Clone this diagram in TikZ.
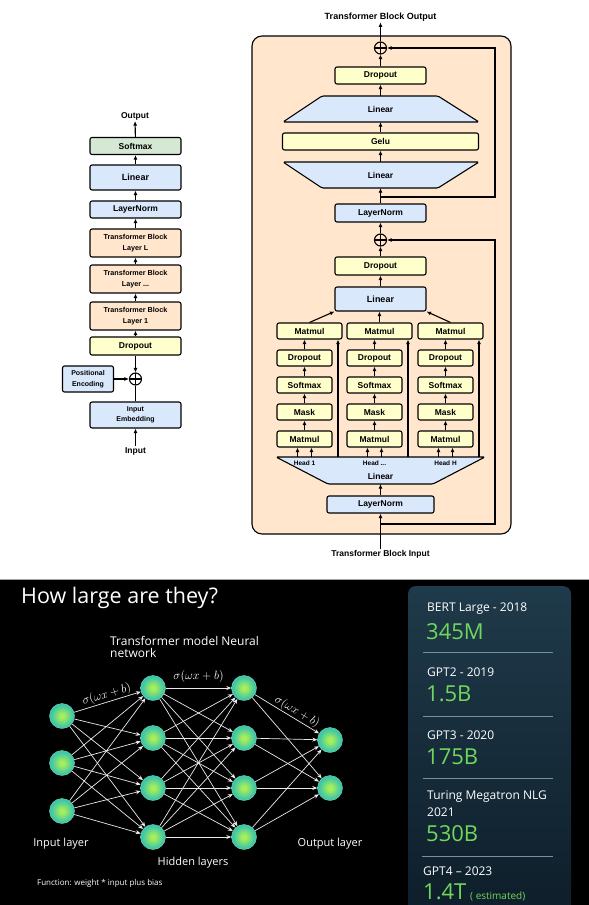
\documentclass[tikz,border=0pt]{standalone}
\usepackage{fontspec}
\setmainfont{Liberation Sans}
\newfontfamily\slidefont{Open Sans}
\usetikzlibrary{arrows.meta}

\definecolor{bluefill}{HTML}{DAE8FC}
\definecolor{yellowfill}{HTML}{FFFFCC}
\definecolor{peachfill}{HTML}{FFE6CC}
\definecolor{greenfill}{HTML}{D5E8D4}
\definecolor{nnin}{HTML}{A8EE5A}
\definecolor{nnout}{HTML}{3CC6A8}
\definecolor{valgreen}{HTML}{6FD85C}
\definecolor{paneltop}{HTML}{1F3A4A}
\definecolor{panelbot}{HTML}{0E1E2A}
\definecolor{rulegray}{HTML}{7D8D99}

\pgfdeclareradialshading{neuronball}{\pgfpoint{0bp}{0bp}}{color(0bp)=(nnin); color(4bp)=(nnin); color(22bp)=(nnout); color(50bp)=(nnout)}

\newcommand\headmid{...}

\tikzstyle{box} = [draw, line width=1.1pt, rounded corners=2pt, inner sep=0pt, align=center, font=\bfseries\fontsize{8.5}{10}\selectfont]
\tikzstyle{yel} = [box, fill=yellowfill]
\tikzstyle{blu} = [box, fill=bluefill]
\tikzstyle{grn} = [box, fill=greenfill]
\tikzstyle{org} = [box, fill=peachfill, font=\bfseries\fontsize{7.2}{10.5}\selectfont]
\tikzstyle{trap} = [draw, line width=1.1pt, fill=bluefill, rounded corners=1.5pt]
\tikzstyle{txt} = [inner sep=1pt, font=\bfseries\fontsize{8.5}{10}\selectfont]
\tikzstyle{edge} = [draw, line width=1.1pt, -{Latex[length=4.5pt,width=4pt]}]
\tikzstyle{wire} = [draw, line width=1.1pt]
\tikzstyle{plus} = [circle, draw, line width=1.1pt, minimum size=12pt, inner sep=0pt, path picture={\draw[line width=1.1pt] (path picture bounding box.north) -- (path picture bounding box.south) (path picture bounding box.west) -- (path picture bounding box.east);}]
\tikzstyle{neuron} = [circle, minimum size=25pt, inner sep=0pt, shading=neuronball, draw=nnout!70!white, thin]
\tikzstyle{nnedge} = [draw=white!92!black, line width=0.7pt, -{Stealth[length=5pt,width=4pt]}]
\tikzstyle{sigma} = [text=white, font=\fontsize{12}{14}\selectfont, inner sep=1pt]
\tikzstyle{slide} = [text=white, inner sep=0pt, font=\slidefont\fontsize{11}{13}\selectfont]
\tikzstyle{year} = [text=white, anchor=west, inner sep=0pt, font=\slidefont\fontsize{12}{14}\selectfont]
\tikzstyle{value} = [text=valgreen, anchor=west, inner sep=0pt, font=\slidefont\fontsize{22}{26}\selectfont]
\tikzstyle{divider} = [draw=rulegray, line width=1pt]

\begin{document}
\begin{tikzpicture}[x=1pt, y=-1pt]
\useasboundingbox (0,0) rectangle (589,905);

% whole model
\node[txt] (outL) at (135,116) {Output};
\node[grn, minimum width=91pt, minimum height=17pt] (softL) at (135.5,146) {Softmax};
\node[blu, minimum width=91pt, minimum height=25pt, font=\bfseries\fontsize{9}{10}\selectfont] (linL) at (135.5,177.5) {Linear};
\node[blu, minimum width=91pt, minimum height=17pt] (lnL) at (135.5,209.5) {LayerNorm};
\node[org, minimum width=91pt, minimum height=28pt] (tbL) at (135.5,243) {Transformer Block\\Layer L};
\node[org, minimum width=91pt, minimum height=28pt] (tbD) at (135.5,279) {Transformer Block\\Layer \headmid};
\node[org, minimum width=91pt, minimum height=28pt] (tb1) at (135.5,316) {Transformer Block\\Layer 1};
\node[yel, minimum width=91pt, minimum height=18pt] (dropL) at (135.5,346) {Dropout};
\node[plus] (plusL) at (135.5,379) {};
\node[blu, minimum width=51pt, minimum height=26pt, font=\bfseries\fontsize{7}{10.5}\selectfont] (posL) at (88,379) {Positional\\Encoding};
\node[blu, minimum width=91pt, minimum height=26pt, font=\bfseries\fontsize{7}{10.5}\selectfont] (embL) at (135.5,415) {Input\\Embedding};
\node[txt] (inL) at (135.5,451) {Input};

\foreach \source/\dest in {inL/embL, posL/plusL, dropL/plusL, dropL/tb1, tb1/tbD, tbD/tbL, tbL/lnL, lnL/linL, linL/softL, softL/outL}
	\path[edge] (\source) -- (\dest);
\path[wire] (embL) -- (plusL);

% transformer block
\node[txt, font=\bfseries\fontsize{9}{10}\selectfont] (outR) at (380.5,17) {Transformer Block Output};
\draw[line width=1.1pt, fill=peachfill, rounded corners=10pt] (252,36) rectangle (511,534);

\node[plus] (plusA) at (380.5,48) {};
\node[yel, minimum width=91pt, minimum height=17pt] (dropA) at (380.5,75.5) {Dropout};
\draw[trap] (322,96) -- (438,96) -- (479,122) -- (283,122) -- cycle;
\node[txt, minimum height=26pt] (linA) at (380.5,109) {Linear};
\node[yel, minimum width=196pt, minimum height=17pt] (gelu) at (380.5,141.5) {Gelu};
\draw[trap] (283,162) -- (479,162) -- (438,188) -- (322,188) -- cycle;
\node[txt, minimum height=26pt] (linB) at (380.5,175) {Linear};
\node[blu, minimum width=91pt, minimum height=18pt] (lnA) at (380.5,213) {LayerNorm};
\node[plus] (plusB) at (380.5,240) {};
\node[yel, minimum width=91pt, minimum height=18pt] (dropB) at (380.5,266) {Dropout};
\node[blu, minimum width=91pt, minimum height=24pt, font=\bfseries\fontsize{9}{10}\selectfont] (linC) at (380.5,299) {Linear};

\foreach \source/\dest in {plusA/outR, dropA/plusA, linA/dropA, gelu/linA, linB/gelu, lnA/linB, plusB/lnA, dropB/plusB, linC/dropB}
	\path[edge] (\source) -- (\dest);

\coordinate (jA) at (380.5,197);
\coordinate (cA) at (495,48);
\path[edge] (jA) -| (cA) -- (plusA);

% heads
\draw[trap] (276,457) -- (485,457) -- (433,484) -- (328,484) -- cycle;
\foreach \n/\L/\h in {1/277/1, 2/347/\headmid, 3/418/H} {
	\node[yel, minimum width=65pt, minimum height=16pt] (mt\n) at ({\L+32.5},331) {Matmul};
	\node[yel, minimum width=55pt, minimum height=16pt] (dr\n) at ({\L+27.5},358) {Dropout};
	\node[yel, minimum width=55pt, minimum height=16pt] (sm\n) at ({\L+27.5},385) {Softmax};
	\node[yel, minimum width=55pt, minimum height=16pt] (mk\n) at ({\L+27.5},412) {Mask};
	\node[yel, minimum width=55pt, minimum height=16pt] (mb\n) at ({\L+27.5},439) {Matmul};
	\node[txt, font=\bfseries\fontsize{6.5}{7}\selectfont] (hd\n) at ({\L+27.5},463.5) {Head \h};
	\coordinate (ha\n) at ({\L+20.5},457);
	\coordinate (hb\n) at ({\L+34.5},457);
	\coordinate (hc\n) at ({\L+61},457);
	\foreach \source/\dest in {mb\n/mk\n, mk\n/sm\n, sm\n/dr\n}
		\path[edge] (\source) -- (\dest);
	\path[edge] (dr\n.north) -- (dr\n.north |- mt\n.south);
	\path[edge] (ha\n) -- (ha\n |- mb\n.south);
	\path[edge] (hb\n) -- (hb\n |- mb\n.south);
	\path[edge] (hc\n) -- (hc\n |- mt\n.south);
}
\path[edge] (mt1.north) -- (linC.south west);
\path[edge] (mt2.north) -- (mt2.north |- linC.south);
\path[edge] (mt3.north) -- (linC.south east);

\node[txt] (linD) at (380.5,476) {Linear};
\node[blu, minimum width=107pt, minimum height=17pt] (lnB) at (380.5,504.5) {LayerNorm};
\coordinate (dB) at (380.5,484);
\path[edge] (lnB) -- (dB);
\node[txt] (inR) at (380.5,554) {Transformer Block Input};
\path[edge] (inR) -- (lnB);
\coordinate (jB) at (380.5,524);
\coordinate (cB) at (495,240);
\path[edge] (jB) -| (cB) -- (plusB);

% slide
\fill[black] (0,579) rectangle (589,905);
\draw[gray!70, line width=1pt] (0,579) -- (589,579);
\node[slide, anchor=west, font=\slidefont\fontsize{21.5}{24}\selectfont] (title) at (21,598) {How large are they?};
\node[slide, anchor=west, align=left, font=\slidefont\fontsize{12}{12.5}\selectfont] (nntitle) at (110,647) {Transformer model Neural\\network};

\foreach \name/\x/\y in {i1/62/716, i2/62/763, i3/62/811, h1/153/688, h2/153/738, h3/153/788, h4/153/837, g1/244/688, g2/244/738, g3/244/788, g4/244/837, o1/330/740, o2/330/788}
	\node[neuron] (\name) at (\x,\y) {};

\foreach \i in {1,2,3}
	\foreach \j in {1,...,4}
		\path[nnedge] (i\i) -- (h\j);
\foreach \i in {1,...,4}
	\foreach \j in {1,...,4}
		\path[nnedge] (h\i) -- (g\j);
\foreach \i in {1,...,4}
	\foreach \j in {1,2}
		\path[nnedge] (g\i) -- (o\j);

\path (i1) -- node[sigma, sloped, above, pos=0.52] (sg1) {$\sigma(\omega x + b)$} (h1);
\path (h1) -- node[sigma, above=4pt] (sg2) {$\sigma(\omega x + b)$} (g1);
\path (g1) -- node[sigma, sloped, above, pos=0.6] (sg3) {$\sigma(\omega x + b)$} (o1);

\node[slide] (inlay) at (61,844) {Input layer};
\node[slide] (hidlay) at (193,863) {Hidden layers};
\node[slide] (outlay) at (330,844) {Output layer};
\node[slide, anchor=west, font=\slidefont\fontsize{8}{10}\selectfont] (func) at (37,883) {Function: weight * input plus bias};

% model sizes
\shade[top color=paneltop, bottom color=panelbot, rounded corners=8pt] (408,586) rectangle (571,915);
\node[year] (bert) at (427,609) {BERT Large - 2018};
\node[value] (bertv) at (426,632) {345M};
\draw[divider] (423,652) -- (553,652);
\node[year] (gpt2) at (427,672) {GPT2 - 2019};
\node[value] (gpt2v) at (426,694) {1.5B};
\draw[divider] (423,716) -- (553,716);
\node[year] (gpt3) at (427,735) {GPT3 - 2020};
\node[value] (gpt3v) at (426,757) {175B};
\draw[divider] (423,778) -- (553,778);
\node[year] (turing) at (427,797) {Turing Megatron NLG};
\node[year] (turingy) at (427,812) {2021};
\node[value] (turingv) at (426,834) {530B};
\draw[divider] (422,856) -- (553,856);
\node[year] (gpt4) at (423,871) {GPT4 – 2023};
\node[value] (gpt4v) at (423,892) {1.4T};
\node[year, text=valgreen, font=\slidefont\fontsize{10}{12}\selectfont] (est) at (470,896) {( estimated)};
\end{tikzpicture}
\end{document}
